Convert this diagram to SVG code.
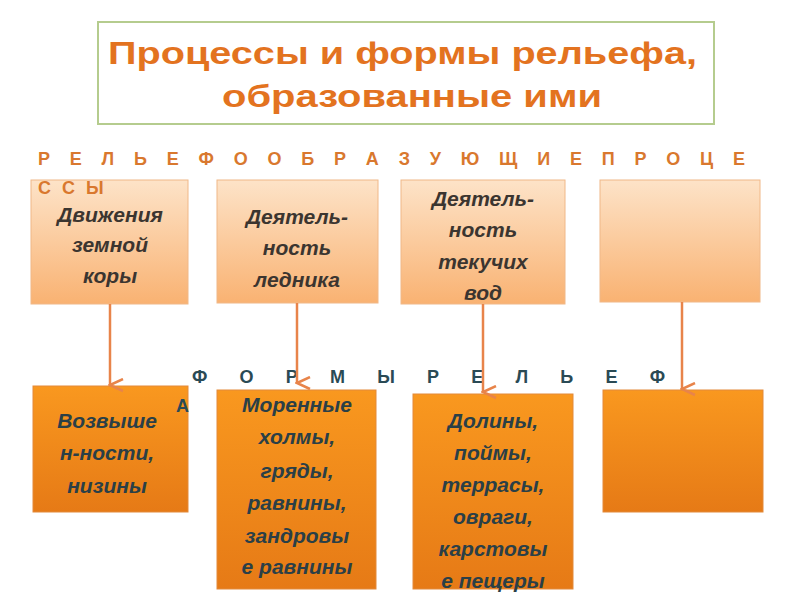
<svg xmlns="http://www.w3.org/2000/svg" width="800" height="600" viewBox="0 0 800 600">
<defs>
<linearGradient id="lg" x1="0" y1="0" x2="0" y2="1"><stop offset="0" stop-color="#fde3c8"/><stop offset="1" stop-color="#f9b272"/></linearGradient>
<linearGradient id="dg" x1="0" y1="0" x2="0" y2="1"><stop offset="0" stop-color="#f9981f"/><stop offset="1" stop-color="#e67a16"/></linearGradient>
<marker id="ah" markerWidth="16" markerHeight="16" refX="7" refY="14" orient="auto" markerUnits="userSpaceOnUse"><path d="M1,1 L7,14 L13,1" fill="none" stroke="#e8844a" stroke-width="2.5"/></marker>
<style>
.t{font-family:"Liberation Sans",Arial,sans-serif;}
.top{fill:url(#lg);stroke:#f0b888;stroke-width:1;}
.bot{fill:url(#dg);stroke:#e38a3a;stroke-width:1;}
.tt{font-family:"Liberation Sans",Arial,sans-serif;font-size:21px;font-weight:bold;font-style:italic;fill:#3b3530;text-anchor:middle;}
.bt{font-family:"Liberation Sans",Arial,sans-serif;font-size:21px;font-weight:bold;font-style:italic;fill:#2a3f47;text-anchor:middle;}
.c{stroke:#e8844a;stroke-width:2.5;fill:none;marker-end:url(#ah);}
</style>
</defs>
<rect width="800" height="600" fill="#fff"/>
<g id="title">
<rect x="98" y="22" width="616" height="102" fill="#fff" stroke="#b5cc8e" stroke-width="2"/>
<text class="t" x="108" y="64" font-size="32" font-weight="bold" fill="#e3731f" textLength="589" lengthAdjust="spacingAndGlyphs">Процессы и формы рельефа,</text>
<text class="t" x="222" y="107" font-size="32" font-weight="bold" fill="#e3731f" textLength="380" lengthAdjust="spacingAndGlyphs">образованные ими</text>
</g>
<g id="p1"><rect class="top" x="31" y="180" width="157" height="124"/>
<text class="tt" x="110" y="222">Движения</text><text class="tt" x="110" y="252">земной</text><text class="tt" x="110" y="283">коры</text></g>
<g id="p2"><rect class="top" x="217" y="180" width="161" height="123"/>
<text class="tt" x="297" y="224">Деятель-</text><text class="tt" x="297" y="255">ность</text><text class="tt" x="297" y="287">ледника</text></g>
<g id="p3"><rect class="top" x="401" y="180" width="164" height="124"/>
<text class="tt" x="483" y="206">Деятель-</text><text class="tt" x="483" y="237">ность</text><text class="tt" x="483" y="269">текучих</text><text class="tt" x="483" y="300">вод</text></g>
<g id="p4"><rect class="top" x="600" y="180" width="160" height="122"/></g>
<g id="f1"><rect class="bot" x="33" y="386" width="155" height="126"/>
<text class="bt" x="107" y="428">Возвыше</text><text class="bt" x="107" y="460">н-ности,</text><text class="bt" x="107" y="493">низины</text></g>
<g id="f2"><rect class="bot" x="217" y="390" width="159" height="199"/>
<text class="bt" x="297" y="412">Моренные</text><text class="bt" x="297" y="444">холмы,</text><text class="bt" x="297" y="478">гряды,</text><text class="bt" x="297" y="510">равнины,</text><text class="bt" x="297" y="543">зандровы</text><text class="bt" x="297" y="574">е равнины</text></g>
<g id="f3"><rect class="bot" x="413" y="394" width="160" height="195"/>
<text class="bt" x="493" y="428">Долины,</text><text class="bt" x="493" y="460">поймы,</text><text class="bt" x="493" y="492">террасы,</text><text class="bt" x="493" y="524">овраги,</text><text class="bt" x="493" y="556">карстовы</text><text class="bt" x="493" y="588">е пещеры</text></g>
<g id="f4"><rect class="bot" x="603" y="390" width="160" height="122"/></g>
<g id="heading1">
<text class="t" x="38" y="165" font-size="18" font-weight="bold" fill="#d9782e" textLength="707" lengthAdjust="spacing">Р Е Л Ь Е Ф О О Б Р А З У Ю Щ И Е    П Р О Ц Е</text>
<text class="t" x="38" y="194" font-size="18" font-weight="bold" fill="#d9782e" letter-spacing="3">С С Ы</text>
</g>
<g id="heading2">
<text class="t" x="192" y="383" font-size="18" font-weight="bold" fill="#2a4a55" textLength="473" lengthAdjust="spacing">Ф О Р   М Ы     Р Е Л Ь Е Ф</text>
<text class="t" x="176" y="412" font-size="18" font-weight="bold" fill="#2a4a55">А</text>
</g>
<g id="connectors">
<line class="c" x1="110" y1="304" x2="110" y2="385"/>
<line class="c" x1="297" y1="303" x2="297" y2="383"/>
<line class="c" x1="483" y1="304" x2="483" y2="392"/>
<line class="c" x1="682" y1="302" x2="682" y2="389"/>
</g>
</svg>
